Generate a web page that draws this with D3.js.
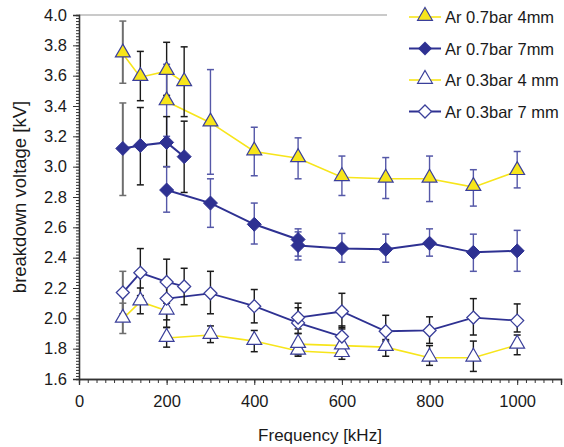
<!DOCTYPE html>
<html><head><meta charset="utf-8">
<script src="https://cdn.jsdelivr.net/npm/d3@7"></script>
<style>body{margin:0;background:#fff}svg{display:block;font-family:"Liberation Sans",Arial,sans-serif}</style>
</head><body><svg id="c" width="564" height="447"></svg>
<script>
// Each point: [frequency kHz, value kV, error low, error high]
const ar07_4mm_run1 = [[100,3.745,3.55,3.96],[140,3.59,3.435,3.76],[200,3.63,3.47,3.82],[240,3.556,3.33,3.79]];
const ar07_4mm_run2 = [[200,3.43,3.20,3.675],[300,3.29,2.95,3.64],[400,3.10,2.94,3.26],[500,3.055,2.92,3.19],[600,2.93,2.81,3.07],[700,2.92,2.79,3.06],[800,2.92,2.77,3.07],[900,2.865,2.74,2.98],[1000,2.97,2.86,3.10]];
const ar07_7mm_run1 = [[100,3.12,2.81,3.42],[140,3.14,2.88,3.39],[200,3.16,3.00,3.33],[240,3.066,2.83,3.30]];
const ar07_7mm_run2 = [[200,2.846,2.70,3.00],[300,2.76,2.60,2.92],[400,2.62,2.49,2.76],[500,2.52,2.41,2.59]];
const ar07_7mm_run3 = [[500,2.48,2.385,2.57],[600,2.46,2.37,2.56],[700,2.455,2.37,2.555],[800,2.495,2.41,2.59],[900,2.435,2.31,2.555],[1000,2.445,2.31,2.58]];
const ar03_4mm_run1 = [[100,1.996,1.90,2.10],[140,2.11,2.03,2.20],[200,2.05,1.94,2.15]];
const ar03_4mm_run2 = [[200,1.87,1.81,1.94],[300,1.89,1.84,1.95],[400,1.85,1.78,1.92],[500,1.785,1.75,1.83],[600,1.77,1.73,1.82]];
const ar03_4mm_run3 = [[500,1.83,1.76,1.90],[600,1.82,1.76,1.93],[700,1.81,1.75,1.86],[800,1.74,1.69,1.82],[900,1.74,1.65,1.85],[1000,1.825,1.76,1.89]];
const ar03_7mm_run1 = [[100,2.17,2.03,2.31],[140,2.30,2.15,2.46],[200,2.24,2.10,2.39],[240,2.21,2.09,2.33]];
const ar03_7mm_run2 = [[200,2.13,1.99,2.26],[300,2.165,2.03,2.31],[400,2.08,1.97,2.19],[500,1.97,1.90,2.07],[600,1.88,1.81,1.95]];
const ar03_7mm_run3 = [[500,2.005,1.93,2.10],[600,2.045,1.94,2.165],[700,1.915,1.85,2.02],[800,1.92,1.835,2.01],[900,2.005,1.89,2.13],[1000,1.985,1.91,2.095]];

const legendLabels = ["Ar 0.7bar 4mm","Ar 0.7bar 7mm","Ar 0.3bar 4 mm","Ar 0.3bar 7 mm"];
const xTicks = [0,200,400,600,800,1000];
const yTicks = [1.6,1.8,2.0,2.2,2.4,2.6,2.8,3.0,3.2,3.4,3.6,3.8,4.0];
const xTitle = "Frequency [kHz]";
const yTitle = "breakdown voltage [kV]";

const YEL = "#f7e51a", NAVY = "#2e3192", EBLUE = "#5558a8", EBLK = "#1a1a1a", EGRAY = "#6e6e6e";
const svg = d3.select("#c");
const x = d3.scaleLinear().domain([0,1100]).range([79,561]);
const y = d3.scaleLinear().domain([1.6,4.0]).range([379,15]);

// top gray border
svg.append("line").attr("x1",x(0)).attr("x2",x(1100)).attr("y1",y(4)).attr("y2",y(4)).attr("stroke","#b8b8b8").attr("stroke-width",1.5);

// axes
const xAxis = svg.append("g").attr("transform",`translate(0,${y(1.6)})`)
  .call(d3.axisBottom(x).tickValues(d3.range(0,1101,20)).tickSize(4).tickFormat(""));
xAxis.append("g").call(d3.axisBottom(x).tickValues(xTicks).tickSize(6).tickPadding(10).tickFormat(d3.format("d")));
const yAxis = svg.append("g").attr("transform",`translate(${x(0)},0)`)
  .call(d3.axisLeft(y).tickValues(d3.range(0,121).map(i=>1.6+i*0.02)).tickSize(3).tickFormat(""));
yAxis.append("g").call(d3.axisLeft(y).tickValues(yTicks).tickSize(6).tickPadding(6).tickFormat(d3.format(".1f")));
svg.selectAll(".domain").attr("stroke","#333").attr("stroke-width",1.3);
svg.selectAll(".tick line").attr("stroke","#333");
svg.selectAll(".tick text").attr("font-size",16.5).attr("fill","#1a1a1a").attr("font-family","Liberation Sans, Arial, sans-serif");

svg.append("text").attr("x",320).attr("y",441).attr("text-anchor","middle").attr("font-size",17).attr("fill","#1a1a1a").text(xTitle);
svg.append("text").attr("transform",`translate(26,${(y(1.6)+y(4))/2}) rotate(-90)`).attr("text-anchor","middle").attr("font-size",18.5).attr("fill","#1a1a1a").text(yTitle);

const line = d3.line().x(d=>x(d[0])).y(d=>y(d[1]));
const tri = d3.symbol().type(d3.symbolTriangle).size(95);
const dia = (s)=>`M0,${-s}L${s},0L0,${s}L${-s},0Z`;

function errbars(run, color, firstGray){
  const g = svg.append("g");
  run.forEach((d,i)=>{
    const c = (firstGray && d[0]===100) ? EGRAY : color;
    const w = (firstGray && d[0]===100) ? 2 : 1.4;
    g.append("line").attr("x1",x(d[0])).attr("x2",x(d[0])).attr("y1",y(d[2])).attr("y2",y(d[3])).attr("stroke",c).attr("stroke-width",w);
    [d[2],d[3]].forEach(v=>g.append("line").attr("x1",x(d[0])-3.5).attr("x2",x(d[0])+3.5).attr("y1",y(v)).attr("y2",y(v)).attr("stroke",c).attr("stroke-width",1.5));
  });
}
function path(run,color,w){
  svg.append("path").datum(run).attr("d",line).attr("fill","none").attr("stroke",color).attr("stroke-width",w);
}
function markers(run,kind){
  const g = svg.append("g");
  run.forEach(d=>{
    const t = `translate(${x(d[0])},${y(d[1])})`;
    if(kind==="triF") g.append("path").attr("d",tri()).attr("transform",t+" translate(0,-1)").attr("fill",YEL).attr("stroke","#3a3f9a").attr("stroke-width",1.2);
    if(kind==="triO") g.append("path").attr("d",tri()).attr("transform",t+" translate(0,-1)").attr("fill","#fff").attr("stroke","#3a3f9a").attr("stroke-width",1.2);
    if(kind==="diaF") g.append("path").attr("d",dia(7)).attr("transform",t).attr("fill",NAVY).attr("stroke",NAVY).attr("stroke-width",1);
    if(kind==="diaO") g.append("path").attr("d",dia(6.5)).attr("transform",t).attr("fill","#fff").attr("stroke","#3a3f9a").attr("stroke-width",1.3);
  });
}

// Ar 0.7bar 4mm
path(ar07_4mm_run1,YEL,1.6); path(ar07_4mm_run2,YEL,1.6);
errbars(ar07_4mm_run1,EBLK,true); errbars(ar07_4mm_run2,EBLUE,false);
// Ar 0.7bar 7mm
path(ar07_7mm_run1,NAVY,2); path(ar07_7mm_run2,NAVY,2); path(ar07_7mm_run3,NAVY,2);
errbars(ar07_7mm_run1,EBLK,true); errbars(ar07_7mm_run2,EBLUE,false); errbars(ar07_7mm_run3,EBLUE,false);
// Ar 0.3bar 4mm
path(ar03_4mm_run1,YEL,1.6); path(ar03_4mm_run2,YEL,1.6); path(ar03_4mm_run3,YEL,1.6);
errbars(ar03_4mm_run1,EBLK,true); errbars(ar03_4mm_run2,EBLK,false); errbars(ar03_4mm_run3,EBLK,false);
// Ar 0.3bar 7mm
path(ar03_7mm_run1,NAVY,1.8); path(ar03_7mm_run2,NAVY,1.8); path(ar03_7mm_run3,NAVY,1.8);
errbars(ar03_7mm_run1,EBLK,true); errbars(ar03_7mm_run2,EBLK,false); errbars(ar03_7mm_run3,EBLK,false);

markers(ar07_4mm_run1,"triF"); markers(ar07_4mm_run2,"triF");
markers(ar07_7mm_run1,"diaF"); markers(ar07_7mm_run2,"diaF"); markers(ar07_7mm_run3,"diaF");
markers(ar03_4mm_run1,"triO"); markers(ar03_4mm_run2,"triO"); markers(ar03_4mm_run3,"triO");
markers(ar03_7mm_run1,"diaO"); markers(ar03_7mm_run2,"diaO"); markers(ar03_7mm_run3,"diaO");

// legend
const lg = svg.append("g");
lg.append("rect").attr("x",387).attr("y",0).attr("width",177).attr("height",124).attr("fill","#fff");
const kinds = ["triF","diaF","triO","diaO"], lcol = [YEL,NAVY,YEL,NAVY];
legendLabels.forEach((t,i)=>{
  const cy = 17 + i*31.5;
  lg.append("line").attr("x1",409).attr("x2",441).attr("y1",cy).attr("y2",cy).attr("stroke",lcol[i]).attr("stroke-width",i%2?2:1.6);
  const k = kinds[i], tr = `translate(425,${cy})`;
  if(k==="triF") lg.append("path").attr("d",tri()).attr("transform",tr+" translate(0,-1)").attr("fill",YEL).attr("stroke","#3a3f9a").attr("stroke-width",1.2);
  if(k==="triO") lg.append("path").attr("d",tri()).attr("transform",tr+" translate(0,-1)").attr("fill","#fff").attr("stroke","#3a3f9a").attr("stroke-width",1.2);
  if(k==="diaF") lg.append("path").attr("d",dia(7)).attr("transform",tr).attr("fill",NAVY);
  if(k==="diaO") lg.append("path").attr("d",dia(6.5)).attr("transform",tr).attr("fill","#fff").attr("stroke","#3a3f9a").attr("stroke-width",1.3);
  lg.append("text").attr("x",445).attr("y",cy+6).attr("font-size",16.5).attr("fill","#1a1a1a").text(t);
});
</script></body></html>
